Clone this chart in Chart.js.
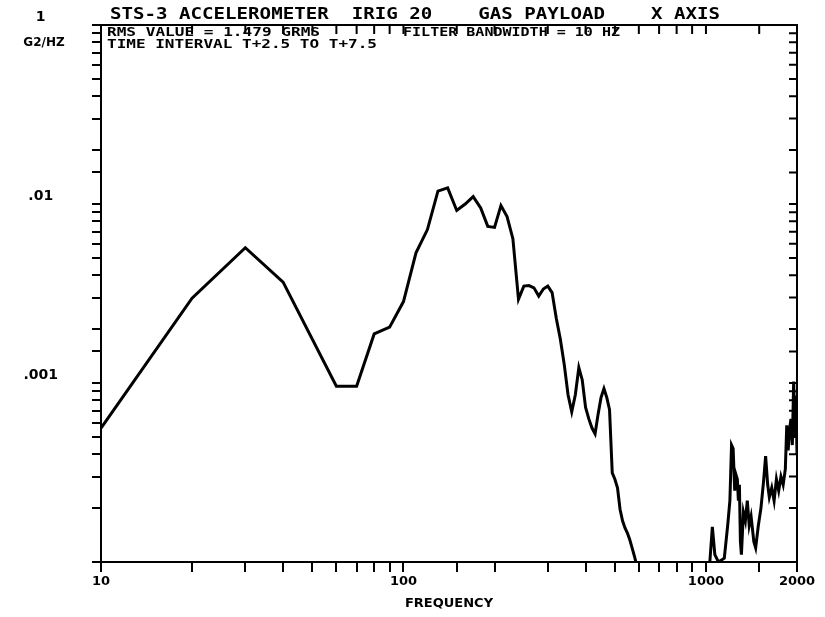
<!DOCTYPE html>
<html>
<head>
<meta charset="utf-8">
<title>STS-3 accelerometer PSD</title>
<script src="https://cdn.jsdelivr.net/npm/chart.js@4.4.0/dist/chart.umd.min.js"></script>
<style>
  html, body { margin: 0; padding: 0; background: #fff; }
  canvas { display: block; }
</style>
</head>
<body>
<canvas id="psdChart" width="825" height="617"></canvas>
<script>
// Frequência (Hz) e densidade espectral (G2/Hz)
const freqs = [
  10, 20, 30, 40, 60, 70, 80, 90, 100, 110, 120, 130, 140, 150, 160, 170, 180, 190, 200,
  210, 220, 230, 240, 250, 260, 270, 280, 290, 300, 310, 320, 330, 340, 350, 360, 370,
  380, 390, 400, 410, 420, 430, 440, 450, 460, 470, 480, 490, 500, 510, 520, 530, 540,
  550, 560, 570, 580, 590, 600, 990,
  1000, 1030, 1050, 1070, 1100, 1150, 1180, 1200, 1215, 1230, 1245, 1255, 1270, 1280,
  1290, 1300, 1310, 1330, 1350, 1370, 1390, 1410, 1440, 1460, 1490, 1520, 1550, 1575,
  1600, 1620, 1650, 1680, 1710, 1740, 1770, 1800, 1830, 1850, 1870, 1890, 1910, 1930,
  1950, 1970, 1985, 2000
];
const psd = [
  0.00056, 0.00298, 0.0057, 0.00366, 0.00096, 0.00096, 0.00188, 0.00205, 0.00285, 0.00534,
  0.0072, 0.0118, 0.0123, 0.0092, 0.0100, 0.0110, 0.0095, 0.0075, 0.0074,
  0.0098, 0.0085, 0.0064, 0.00294, 0.00348, 0.0035, 0.0034, 0.00306, 0.00335, 0.00348,
  0.0032, 0.0023, 0.00176, 0.00127, 0.00086, 0.00069, 0.00086,
  0.00122, 0.00104, 0.00073, 0.00063, 0.00056, 0.00052, 0.00067, 0.00083, 0.00093,
  0.00083, 0.00071, 0.000315, 0.00029, 0.00026, 0.000197, 0.00017, 0.000155,
  0.000145, 0.000133, 0.00012, 0.000108, 0.000096, 0.000085, 0.00008,
  0.00009, 0.0001, 0.000157, 0.00011, 0.0001, 0.000105, 0.00016, 0.00022, 0.00045,
  0.00043, 0.00025, 0.00031, 0.00029, 0.00022,
  0.00027, 0.00013, 0.00011, 0.00019, 0.00017, 0.00022, 0.00016, 0.00018, 0.00013,
  0.00012, 0.00016, 0.0002, 0.00028, 0.00039,
  0.00027, 0.00023, 0.00026, 0.00022, 0.00029, 0.00025, 0.0003, 0.00027, 0.00033,
  0.00058, 0.00042, 0.00055, 0.00063, 0.00045,
  0.00102, 0.0005, 0.00085, 0.0004
];

// Rótulos dos eixos
const xLabelValues = [10, 100, 1000, 2000];
const yLabelValues = [0.1, 0.01, 0.001];
const yLabelTexts = ['1', '.01', '.001'];

const titleText = 'STS-3 ACCELEROMETER  IRIG 20    GAS PAYLOAD    X AXIS';
const rmsText = 'RMS VALUE = 1.479 GRMS';
const filterText = 'FILTER BANDWIDTH = 10 HZ';
const timeText = 'TIME INTERVAL T+2.5 TO T+7.5';
const unitText = 'G2/HZ';

const ink = '#000';
const labelFont = { family: 'DejaVu Sans', weight: 'bold', size: 13 };

function sameValue(a, b) {
    return Math.abs(Math.log10(a) - Math.log10(b)) < 1e-6;
}

// texto esticado na horizontal, como a fonte do plotter
function stretchText(ctx, text, x, y, width) {
    const w = ctx.measureText(text).width;
    ctx.save();
    ctx.translate(x, y);
    ctx.scale(width / w, 1);
    ctx.fillText(text, 0, 0);
    ctx.restore();
}

// Moldura superior/direita com marcas internas e textos
const framePlugin = {
    id: 'frame',
    afterDraw(chart) {
        const ctx = chart.ctx;
        const a = chart.chartArea;
        const xs = chart.scales.x;
        const ys = chart.scales.y;
        ctx.save();
        ctx.strokeStyle = ink;
        ctx.lineWidth = 2;
        ctx.beginPath();
        ctx.moveTo(a.left, a.top);
        ctx.lineTo(a.right, a.top);
        ctx.lineTo(a.right, a.bottom);
        xs.ticks.forEach(t => {
            const px = xs.getPixelForValue(t.value);
            ctx.moveTo(px, a.top);
            ctx.lineTo(px, a.top + 9);
        });
        ys.ticks.forEach(t => {
            const py = ys.getPixelForValue(t.value);
            ctx.moveTo(a.right, py);
            ctx.lineTo(a.right - 8, py);
        });
        ctx.stroke();

        ctx.fillStyle = ink;
        ctx.textBaseline = 'middle';
        ctx.textAlign = 'left';
        ctx.font = 'bold 15px "DejaVu Sans Mono"';
        stretchText(ctx, titleText, 110, 15, 610);
        ctx.font = 'bold 13px "DejaVu Sans Mono"';
        stretchText(ctx, rmsText, 107, 33, 213);
        stretchText(ctx, filterText, 403, 33, 217);
        stretchText(ctx, timeText, 107, 45, 270);
        ctx.font = 'bold 12px "DejaVu Sans"';
        ctx.textAlign = 'center';
        ctx.fillText(unitText, 44, 43);
        ctx.restore();
    }
};

const ctx = document.getElementById('psdChart').getContext('2d');
new Chart(ctx, {
    type: 'line',
    data: {
        datasets: [{
            data: freqs.map((f, i) => ({ x: f, y: psd[i] })),
            borderColor: ink,
            borderWidth: 3,
            pointRadius: 0,
            tension: 0,
            fill: false
        }]
    },
    options: {
        responsive: false,
        animation: false,
        devicePixelRatio: 1,
        layout: { padding: { top: 25, right: 28, left: 0, bottom: 0 } },
        plugins: {
            legend: { display: false },
            tooltip: { enabled: false }
        },
        scales: {
            x: {
                type: 'logarithmic',
                position: 'bottom',
                min: 10,
                max: 2000,
                grid: { drawOnChartArea: false, drawTicks: true, tickLength: 10, color: ink, lineWidth: 2 },
                border: { display: true, color: ink, width: 2 },
                ticks: {
                    autoSkip: false,
                    maxRotation: 0,
                    padding: 2,
                    color: ink,
                    font: labelFont,
                    callback: v => xLabelValues.some(l => sameValue(l, v)) ? String(Math.round(v)) : ''
                },
                title: { display: true, text: 'FREQUENCY', color: ink, font: labelFont, padding: { top: 2, bottom: 6 } },
                afterFit: s => {
                    s.height = 55;
                    s.paddingLeft = 0;
                    s.paddingRight = 0;
                }
            },
            y: {
                type: 'logarithmic',
                position: 'left',
                min: 0.0001,
                max: 0.1,
                grid: { drawOnChartArea: false, drawTicks: true, tickLength: 9, color: ink, lineWidth: 2 },
                border: { display: true, color: ink, width: 2 },
                ticks: {
                    autoSkip: false,
                    crossAlign: 'center',
                    padding: 34,
                    labelOffset: -8,
                    color: ink,
                    font: { family: 'DejaVu Sans', weight: 'bold', size: 14 },
                    callback: v => {
                        const i = yLabelValues.findIndex(l => sameValue(l, v));
                        return i >= 0 ? yLabelTexts[i] : '';
                    }
                },
                afterFit: s => {
                    s.width = 101;
                    s.paddingTop = 0;
                    s.paddingBottom = 0;
                }
            }
        }
    },
    plugins: [framePlugin]
});
</script>
</body>
</html>
